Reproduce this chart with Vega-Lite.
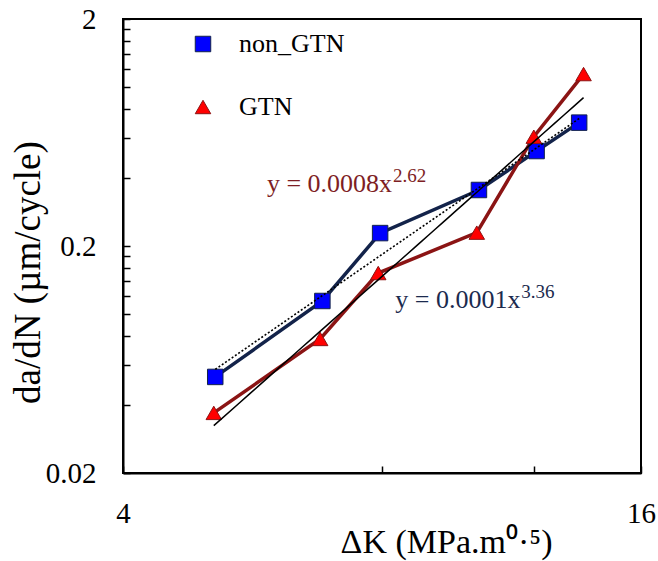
{
  "$schema": "https://vega.github.io/schema/vega-lite/v6.json",
  "width": 518,
  "height": 454,
  "autosize": {"type": "none"},
  "padding": {"left": 123, "top": 19, "right": 17, "bottom": 88},
  "background": "white",
  "config": {
    "font": "Liberation Serif",
    "view": {"stroke": "black", "strokeWidth": 2},
    "axis": {
      "domainColor": "black", "domainWidth": 2,
      "tickColor": "black", "tickWidth": 1.5,
      "grid": false,
      "labelFont": "Liberation Serif", "labelFontSize": 29, "labelColor": "black",
      "titleFont": "Liberation Serif", "titleFontSize": 34, "titleFontWeight": "normal", "titleColor": "black",
      "labelFlush": false, "labelOverlap": false
    },
    "legend": {
      "orient": "none", "legendX": 67, "legendY": 12,
      "padding": 0, "rowPadding": 37,
      "labelFont": "Liberation Serif", "labelFontSize": 26, "labelColor": "black",
      "labelOffset": 23, "symbolSize": 240, "symbolStrokeWidth": 1
    }
  },
  "datasets": {
    "crack": [
      {"series": "non_GTN", "dK": 5.12, "rate": 0.053},
      {"series": "non_GTN", "dK": 6.82, "rate": 0.1145},
      {"series": "non_GTN", "dK": 7.96, "rate": 0.228},
      {"series": "non_GTN", "dK": 10.37, "rate": 0.353},
      {"series": "non_GTN", "dK": 12.10, "rate": 0.524},
      {"series": "non_GTN", "dK": 13.56, "rate": 0.699},
      {"series": "GTN", "dK": 5.10, "rate": 0.0368},
      {"series": "GTN", "dK": 6.78, "rate": 0.0779},
      {"series": "GTN", "dK": 7.92, "rate": 0.152},
      {"series": "GTN", "dK": 10.31, "rate": 0.229},
      {"series": "GTN", "dK": 12.01, "rate": 0.606},
      {"series": "GTN", "dK": 13.72, "rate": 1.144}
    ],
    "eq": [
      {"fit": "non_GTN fit", "text": "y = 0.0008x", "sup": "2.62", "dK": 5.88, "rate": 0.346},
      {"fit": "GTN fit", "text": "y = 0.0001x", "sup": "3.36", "dK": 8.29, "rate": 0.1066}
    ]
  },
  "layer": [
    {
      "data": {"name": "crack"},
      "mark": {"type": "line", "strokeWidth": 3.5},
      "encoding": {
        "x": {
          "field": "dK", "type": "quantitative",
          "scale": {"type": "log", "domain": [4, 16], "nice": false},
          "axis": {
            "values": [4, 8, 12, 16],
            "tickSize": -7,
            "labelPadding": 33,
            "format": "~g",
            "labelExpr": "datum.value == 4 || datum.value == 16 ? datum.label : ''",
            "title": "ΔK (MPa.m⁰·⁵)",
            "titleX": 323,
            "titleY": 79,
            "titleBaseline": "alphabetic"
          }
        },
        "y": {
          "field": "rate", "type": "quantitative",
          "scale": {"type": "log", "domain": [0.02, 2], "nice": false},
          "axis": {
            "values": [0.02, 0.04, 0.06, 0.08, 0.1, 0.12, 0.14, 0.16, 0.18, 0.2, 0.4, 0.6, 0.8, 1, 1.2, 1.4, 1.6, 1.8, 2],
            "tickSize": -7,
            "labelPadding": 34,
            "format": "~g",
            "labelExpr": "datum.value == 0.02 || datum.value == 0.2 || datum.value == 2 ? datum.label : ''",
            "title": "da/dN (µm/cycle)",
            "titleFontSize": 37,
            "titleX": -84,
            "titleY": 253,
            "titleAlign": "center",
            "titleBaseline": "alphabetic"
          }
        },
        "stroke": {
          "field": "series", "type": "nominal", "title": null,
          "scale": {"domain": ["non_GTN", "GTN"], "range": ["#13234A", "#8B1414"]}
        }
      }
    },
    {
      "data": {"name": "crack"},
      "mark": {"type": "point", "filled": true, "opacity": 1, "size": 240, "strokeWidth": 1},
      "encoding": {
        "x": {"field": "dK", "type": "quantitative"},
        "y": {"field": "rate", "type": "quantitative"},
        "fill": {
          "field": "series", "type": "nominal", "title": null,
          "scale": {"domain": ["non_GTN", "GTN"], "range": ["#0000FF", "#FF0000"]}
        },
        "shape": {
          "field": "series", "type": "nominal", "title": null,
          "scale": {"domain": ["non_GTN", "GTN"], "range": ["square", "triangle-up"]}
        },
        "stroke": {"field": "series", "type": "nominal", "title": null}
      }
    },
    {
      "data": {"name": "crack"},
      "transform": [
        {"filter": "datum.series === 'non_GTN'"},
        {"regression": "rate", "on": "dK", "method": "pow"}
      ],
      "mark": {"type": "line", "color": "black", "strokeWidth": 1.6, "strokeDash": [2, 2]},
      "encoding": {
        "x": {"field": "dK", "type": "quantitative"},
        "y": {"field": "rate", "type": "quantitative"}
      }
    },
    {
      "data": {"name": "crack"},
      "transform": [
        {"filter": "datum.series === 'GTN'"},
        {"regression": "rate", "on": "dK", "method": "pow"}
      ],
      "mark": {"type": "line", "color": "black", "strokeWidth": 1.5},
      "encoding": {
        "x": {"field": "dK", "type": "quantitative"},
        "y": {"field": "rate", "type": "quantitative"}
      }
    },
    {
      "data": {"name": "eq"},
      "mark": {"type": "text", "align": "left", "baseline": "alphabetic", "fontSize": 26, "font": "Liberation Serif"},
      "encoding": {
        "x": {"field": "dK", "type": "quantitative"},
        "y": {"field": "rate", "type": "quantitative"},
        "text": {"field": "text"},
        "color": {
          "field": "fit", "type": "nominal", "legend": null,
          "scale": {"domain": ["non_GTN fit", "GTN fit"], "range": ["#7E1E24", "#1B2A4E"]}
        }
      }
    },
    {
      "data": {"name": "eq"},
      "mark": {"type": "text", "align": "left", "baseline": "alphabetic", "fontSize": 19, "font": "Liberation Serif", "dx": 126, "dy": -10},
      "encoding": {
        "x": {"field": "dK", "type": "quantitative"},
        "y": {"field": "rate", "type": "quantitative"},
        "text": {"field": "sup"},
        "color": {"field": "fit", "type": "nominal", "legend": null}
      }
    }
  ]
}
